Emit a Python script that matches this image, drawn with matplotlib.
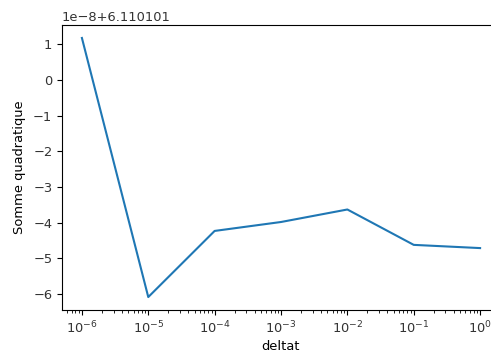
import matplotlib
matplotlib.use("Agg")
import matplotlib.pyplot as plt

# Time steps and the resulting sum of squares
deltat = [1e-6, 1e-5, 1e-4, 1e-3, 1e-2, 1e-1, 1e0]
offset = 6.110101
residual_1e8 = [1.17, -6.08, -4.23, -3.98, -3.63, -4.62, -4.71]
somme = [offset + r * 1e-8 for r in residual_1e8]

plt.rcParams["font.size"] = 9.4

fig = plt.figure(figsize=(4.91, 3.56), dpi=100)
ax = fig.add_axes([62 / 491, 46 / 356, 438 / 491, 285 / 356])
ax.plot(deltat, somme, color="#1f77b4", lw=1.5)
ax.set_xscale("log")
ax.set_xlabel("deltat", labelpad=3)
ax.set_ylabel("Somme quadratique", labelpad=5)
ax.tick_params(labelcolor="#333333")

fig.savefig("out.png", dpi=100)
